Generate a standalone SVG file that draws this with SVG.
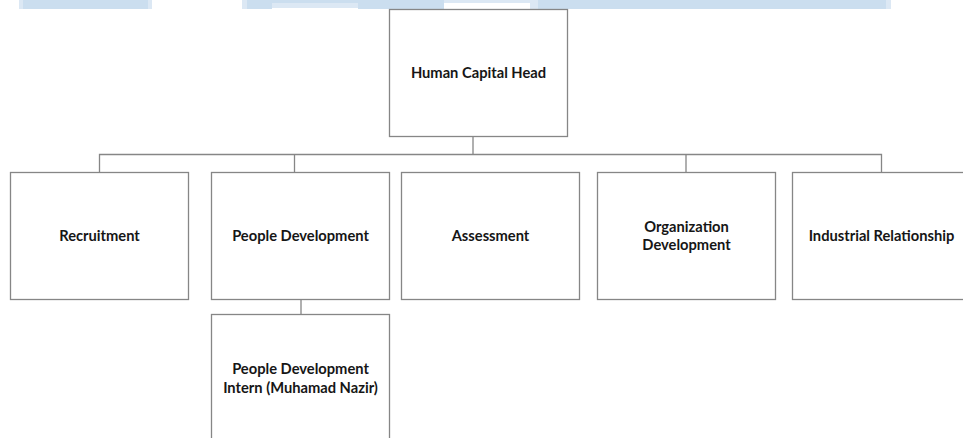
<svg xmlns="http://www.w3.org/2000/svg" width="963" height="438" viewBox="0 0 963 438">
  <style>
    .box { fill: #ffffff; stroke: #868686; stroke-width: 1.3; }
    .lbl { font-family: Lato, "Open Sans", "Liberation Sans", sans-serif; font-weight: 700; font-size: 14.7px; fill: #161616; text-anchor: middle; }
    .wire { fill: none; stroke: #868686; stroke-width: 1.3; }
    .band { fill: #cbdeef; }
    .band-lt { fill: #dce8f4; }
  </style>

  <rect width="963" height="438" fill="#ffffff"/>

  <!-- header strip -->
  <g id="header-strip">
    <rect class="band-lt" x="19" y="0" width="133" height="9"/>
    <rect class="band" x="23" y="0" width="125" height="9"/>
    <rect class="band-lt" x="242" y="0" width="6" height="9"/>
    <rect class="band" x="247" y="0" width="25" height="9"/>
    <rect class="band" x="272" y="0" width="95" height="3"/>
    <rect class="band-lt" x="272" y="3" width="86" height="5"/>
    <rect class="band" x="358" y="0" width="86" height="9"/>
    <rect class="band-lt" x="444" y="0" width="86" height="3"/>
    <rect class="band-lt" x="530" y="0" width="8" height="9"/>
    <rect class="band" x="538" y="0" width="348" height="9"/>
    <rect class="band-lt" x="886" y="0" width="5" height="9"/>
  </g>

  <!-- connectors -->
  <g id="connectors">
    <path class="wire" d="M473 137 V154.5"/>
    <path class="wire" d="M99.5 172 V154.5 H881.5 V172"/>
    <path class="wire" d="M294.5 154.5 V172"/>
    <path class="wire" d="M686 154.5 V172"/>
    <path class="wire" d="M301 299.5 V314.5"/>
  </g>

  <g id="human-capital-head">
    <rect class="box" x="389.5" y="9.5" width="178" height="127"/>
    <text class="lbl" x="478.5" y="77.5">Human Capital Head</text>
  </g>

  <g id="recruitment">
    <rect class="box" x="10.5" y="172.5" width="178" height="127"/>
    <text class="lbl" x="99.5" y="240.5">Recruitment</text>
  </g>

  <g id="people-development">
    <rect class="box" x="211.5" y="172.5" width="178" height="127"/>
    <text class="lbl" x="300.5" y="240.5">People Development</text>
  </g>

  <g id="assessment">
    <rect class="box" x="401.5" y="172.5" width="178" height="127"/>
    <text class="lbl" x="490.5" y="240.5">Assessment</text>
  </g>

  <g id="organization-development">
    <rect class="box" x="597.5" y="172.5" width="178" height="127"/>
    <text class="lbl" x="686.5" y="231.5">Organization</text>
    <text class="lbl" x="686.5" y="249.5">Development</text>
  </g>

  <g id="industrial-relationship">
    <rect class="box" x="792.5" y="172.5" width="178" height="127"/>
    <text class="lbl" x="881.5" y="240.5">Industrial Relationship</text>
  </g>

  <g id="people-development-intern">
    <rect class="box" x="211.5" y="314.5" width="178" height="130"/>
    <text class="lbl" x="300.5" y="373.5">People Development</text>
    <text class="lbl" x="300.5" y="392.5">Intern (Muhamad Nazir)</text>
  </g>
</svg>
